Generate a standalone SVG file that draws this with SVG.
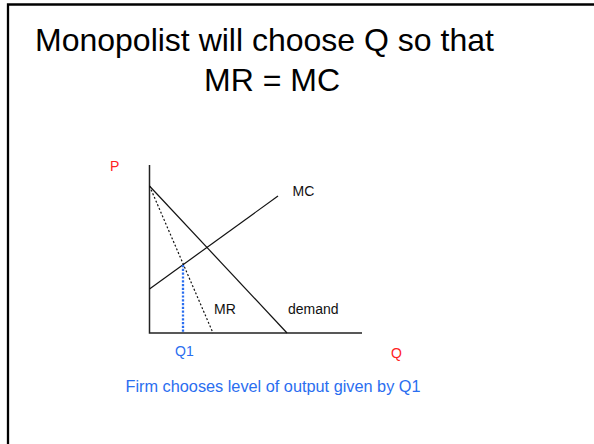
<svg xmlns="http://www.w3.org/2000/svg" width="594" height="444" viewBox="0 0 594 444">
<style>
  text { font-family: "Liberation Sans", Arial, sans-serif; }
  .title { font-size: 32px; fill: #000; }
  .lbl { font-size: 14px; fill: #111; }
  .red { font-size: 14px; fill: #f22; }
  .blue { fill: #2a6ef0; }
  .axis { stroke: #222; stroke-width: 1.5; fill: none; }
  .curve { stroke: #111; stroke-width: 1.2; fill: none; }
</style>
<rect x="0" y="0" width="594" height="444" fill="#fff"/>
<path d="M8,444 V4.5 H594" fill="none" stroke="#000" stroke-width="2.3"/>
<g id="title">
  <text class="title" x="35" y="51">Monopolist will choose Q so that</text>
  <text class="title" x="204" y="91">MR = MC</text>
</g>
<g id="axes">
  <path class="axis" d="M149.5,165 V333 H362"/>
  <text class="red" x="110" y="171">P</text>
  <text class="red" x="391" y="358">Q</text>
</g>
<g id="connectors">
  <line id="demand" class="curve" x1="149.5" y1="186" x2="287" y2="333"/>
  <line id="mr" class="curve" x1="149.5" y1="186" x2="213" y2="333" stroke-dasharray="2,2"/>
  <line id="mc" class="curve" x1="149.5" y1="289" x2="278" y2="196"/>
  <line id="q1line" x1="183" y1="265" x2="183" y2="333" stroke="#2a6ef0" stroke-width="2.3" stroke-dasharray="2.2,1.6"/>
</g>
<g id="labels">
  <text class="lbl" x="292.5" y="196">MC</text>
  <text class="lbl" x="214" y="314">MR</text>
  <text class="lbl" x="288" y="314">demand</text>
  <text class="blue" x="175" y="356" font-size="14">Q1</text>
  <text class="blue" x="125.5" y="392" font-size="16.3">Firm chooses level of output given by Q1</text>
</g>
</svg>
